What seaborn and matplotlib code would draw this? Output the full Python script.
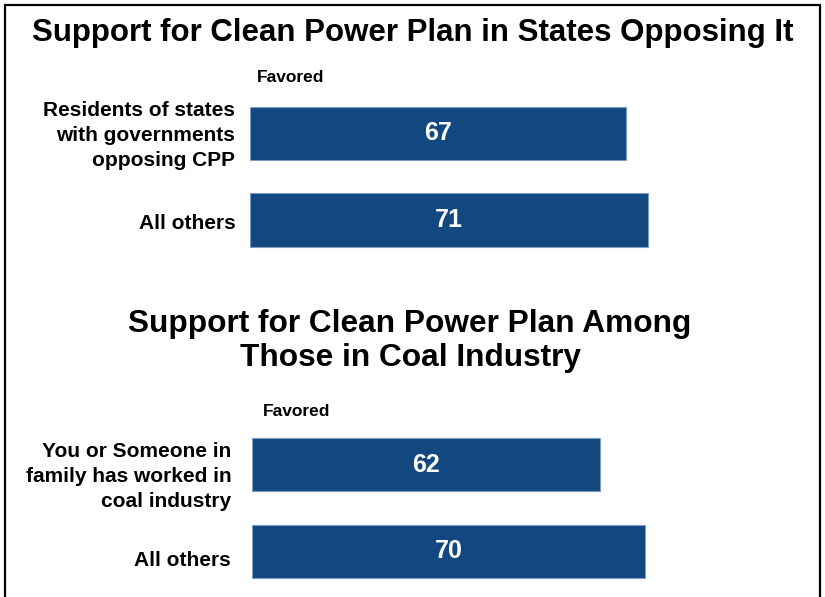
import matplotlib
matplotlib.use("Agg")
import matplotlib.pyplot as plt
import matplotlib.transforms as mtransforms
import seaborn as sns
import pandas as pd
from matplotlib.patches import Rectangle

sns.set_style("white")
plt.rcParams['font.family'] = ['Liberation Sans', 'DejaVu Sans']
plt.rcParams['font.weight'] = 'bold'
plt.rcParams['text.color'] = 'black'
plt.rcParams['ytick.labelcolor'] = 'black'

title1 = "Support for Clean Power Plan in States Opposing It"
title2 = "Support for Clean Power Plan Among\nThose in Coal Industry"
col_label = "Favored"

cats1 = ["Residents of states\nwith governments\nopposing CPP", "All others"]
vals1 = [67, 71]
cats2 = ["You or Someone in\nfamily has worked in\ncoal industry", "All others"]
vals2 = [62, 70]

BAR = "#13477f"
EDGE = "#7d9cc4"

W, H = 825, 597
fig = plt.figure(figsize=(W / 100, H / 100), dpi=100)

def px_axes(left, top, width, height):
    return fig.add_axes([left / W, 1 - (top + height) / H, width / W, height / H])

ax1 = px_axes(250, 90.25, 561, 173)
ax2 = px_axes(252, 421, 561, 174)

for ax, cats, vals, pad, dys in [(ax1, cats1, vals1, 10.5, [2, -1]),
                                 (ax2, cats2, vals2, 15, [-5, -5])]:
    df = pd.DataFrame({"cat": cats, "val": vals})
    sns.barplot(data=df, x="val", y="cat", ax=ax, color=BAR, width=0.62,
                edgecolor=EDGE, linewidth=0.8, saturation=1)
    ax.set_xlim(0, 100)
    ax.set_ylim(1.5, -0.5)
    for c in ax.containers:
        ax.bar_label(c, label_type="center", color="white", fontsize=18,
                     fontweight="bold")
    ax.set_xlabel("")
    ax.set_ylabel("")
    ax.set_xticks([])
    ax.tick_params(axis="y", length=0, pad=pad, labelsize=15, labelcolor="black")
    for lab, dy in zip(ax.get_yticklabels(), dys):
        off = mtransforms.ScaledTranslation(0, dy / 72, fig.dpi_scale_trans)
        lab.set_fontweight("bold")
        lab.set_linespacing(1.4)
        lab.set_color("black")
        lab.set_transform(lab.get_transform() + off)
    sns.despine(ax=ax, left=True, bottom=True)
    ax.patch.set_alpha(0)

fig.text(413 / W, 1 - 33 / H, title1, ha="center", va="center",
         fontsize=22.5, fontweight="bold", color="black")
fig.text(410 / W, 1 - 341 / H, title2, ha="center", va="center",
         fontsize=22.8, fontweight="bold", linespacing=1.2, color="black")
fig.text(257 / W, 1 - 77 / H, col_label, ha="left", va="center",
         fontsize=12.5, fontweight="bold", color="black")
fig.text(263 / W, 1 - 411 / H, col_label, ha="left", va="center",
         fontsize=12.5, fontweight="bold", color="black")

fig.patches.append(Rectangle((5 / W, -0.05), 815 / W, 1 - 5 / H + 0.05,
                             transform=fig.transFigure, fill=False,
                             edgecolor="black", linewidth=1.6))

fig.savefig("out.png", dpi=100)
